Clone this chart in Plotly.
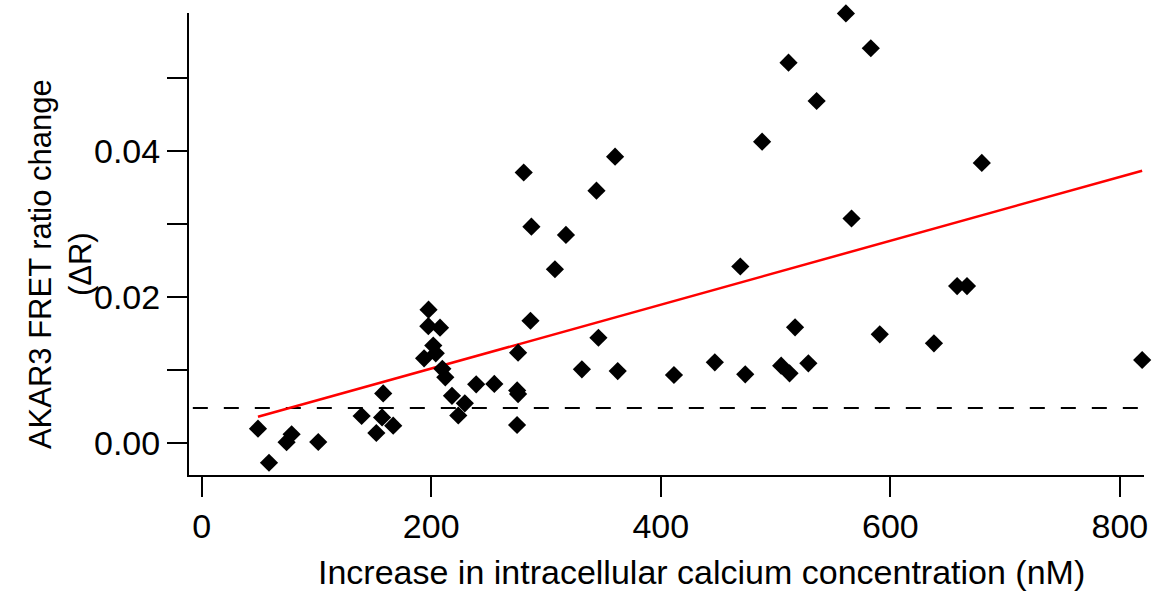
import plotly.graph_objects as go

# Increase in intracellular calcium concentration (nM)
calcium_nM = [
    49.1, 58.7, 74.0, 78.4, 101.6, 139.4, 158.2, 157.2, 152.2, 166.9,
    197.7, 197.5, 207.7, 201.8, 204.0, 193.8, 209.7, 212.3, 218.1, 229.3,
    223.6, 239.2, 255.0, 286.5, 275.7, 275.7, 274.8, 274.9, 280.6, 287.3,
    307.8, 317.4, 344.0, 360.2, 345.7, 331.3, 362.5, 411.5, 447.1, 469.3,
    473.6, 488.3, 504.9, 512.2, 511.3, 517.0, 528.6, 535.8, 561.3, 566.2,
    583.0, 590.8, 638.0, 658.2, 666.8, 679.7, 819.4,
]
# AKAR3 FRET ratio change (dR)
delta_R = [
    0.00196, -0.0027, 0.00011, 0.0012, 0.00014, 0.0037, 0.0068, 0.0035, 0.00137, 0.00237,
    0.01826, 0.0160, 0.0158, 0.01336, 0.01229, 0.0116, 0.01016, 0.0090, 0.00647, 0.00544,
    0.00377, 0.00804, 0.0081, 0.01675, 0.01237, 0.00671, 0.00247, 0.0072, 0.03705, 0.02963,
    0.0238, 0.0285, 0.03456, 0.03922, 0.01442, 0.0101, 0.00986, 0.00932, 0.01105, 0.02418,
    0.00941, 0.04127, 0.01059, 0.00955, 0.0521, 0.01585, 0.01092, 0.04685, 0.05884, 0.03075,
    0.05407, 0.01489, 0.01366, 0.0215, 0.0215, 0.03836, 0.01137,
]

# Linear fit parameters and baseline threshold
fit_slope = 4.375e-5
fit_intercept = 0.00145
baseline = 0.0048

x_ticks = [0, 200, 400, 600, 800]
y_ticks = [0.00, 0.02, 0.04]

fit_x = [min(calcium_nM), max(calcium_nM)]
fit_y = [fit_intercept + fit_slope * v for v in fit_x]

FONT = "Liberation Sans, Arial, sans-serif"

fig = go.Figure()
fig.add_trace(go.Scatter(
    x=fit_x, y=fit_y, mode="lines",
    line=dict(color="#ff0000", width=2.5),
    showlegend=False, hoverinfo="skip",
))
fig.add_trace(go.Scatter(
    x=calcium_nM, y=delta_R, mode="markers",
    marker=dict(symbol="diamond", size=14, color="black", line=dict(width=0)),
    cliponaxis=False, showlegend=False,
))

fig.add_shape(
    type="line", xref="paper", yref="y", x0=0.004, x1=1, y0=baseline, y1=baseline,
    line=dict(color="black", width=2, dash="15px,16px"), layer="below",
)

fig.update_layout(
    width=1158, height=592,
    margin=dict(l=189, r=10, t=13, b=117),
    paper_bgcolor="white", plot_bgcolor="white",
    font=dict(family=FONT, color="black", size=34),
    showlegend=False,
)
fig.update_xaxes(
    range=[-11, 821], showgrid=False, zeroline=False,
    showline=True, linecolor="black", linewidth=2,
    ticks="outside", ticklen=20, tickwidth=2, tickcolor="black",
    tickvals=x_ticks, ticktext=[str(v) for v in x_ticks],
    tickfont=dict(size=34, family=FONT),
)
fig.update_yaxes(
    range=[-0.00438, 0.0589], showgrid=False, zeroline=False,
    showline=True, linecolor="black", linewidth=2,
    ticks="outside", ticklen=20, tickwidth=2, tickcolor="black",
    tickvals=y_ticks, ticktext=[f"{v:.2f}" for v in y_ticks],
    tickfont=dict(size=34, family=FONT),
    minor=dict(ticks="outside", ticklen=20, tickwidth=2, tickcolor="black",
               tickvals=[0.01, 0.03, 0.05], showgrid=False),
)

fig.add_annotation(
    text="AKAR3 FRET ratio change<br>(ΔR)", textangle=-90,
    xref="paper", yref="paper", x=-0.1345, y=0.4555,
    xanchor="center", yanchor="middle", showarrow=False,
    font=dict(size=31, family=FONT, color="black"),
)
fig.add_annotation(
    text="Increase in intracellular calcium concentration (nM)",
    xref="paper", yref="paper", x=0.5365, y=-0.2104,
    xanchor="center", yanchor="middle", showarrow=False,
    font=dict(size=34, family=FONT, color="black"),
)

fig.write_html(
    "out.html",
    config={"displayModeBar": False},
    post_script="document.body.style.margin='0px';document.body.style.overflow='hidden';",
)
